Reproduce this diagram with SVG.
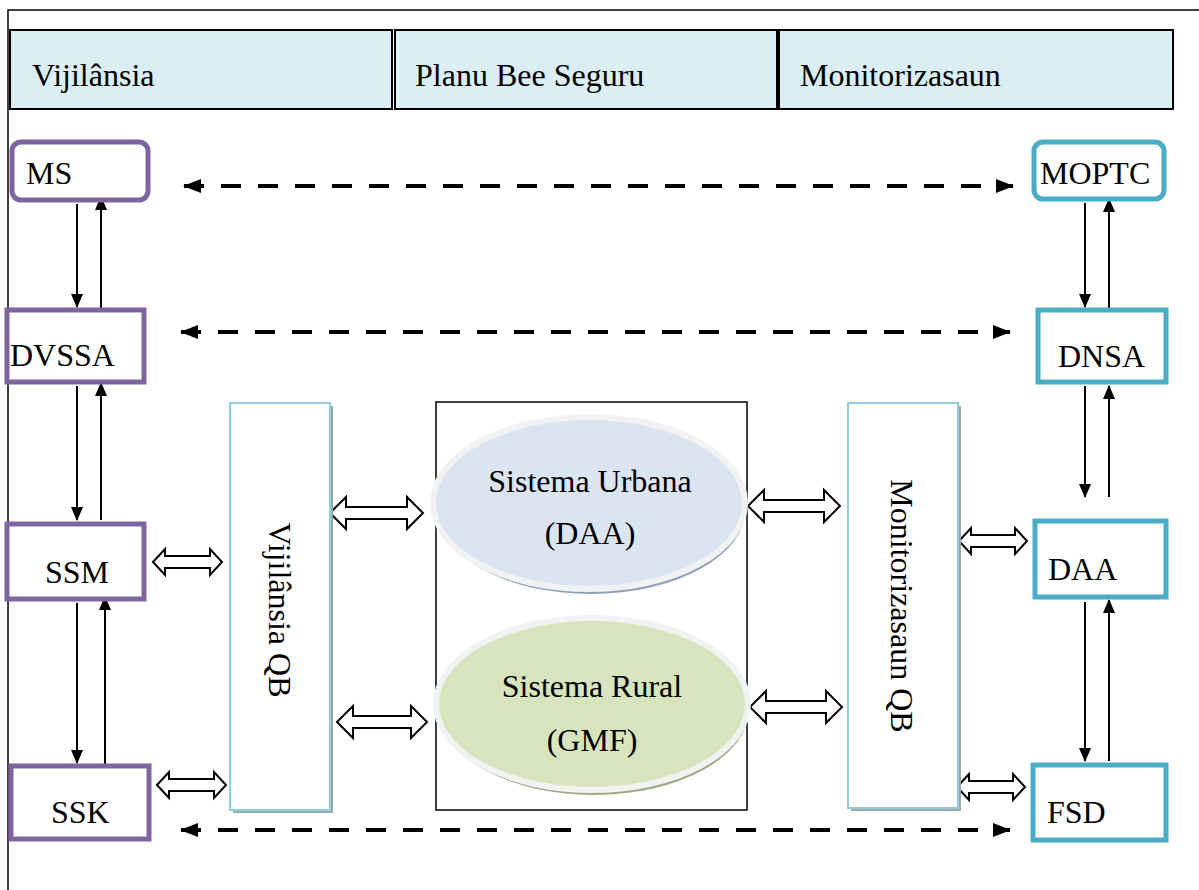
<svg xmlns="http://www.w3.org/2000/svg" width="1199" height="890" viewBox="0 0 1199 890">
<style>
text{font-family:"Liberation Serif","Times New Roman",serif;fill:#000;font-size:32px}
.hdr{fill:#DAEEF3;stroke:#000;stroke-width:2}
.pur{fill:#fff;stroke:#8064A2;stroke-width:5}
.teal{fill:#fff;stroke:#4BACC6;stroke-width:5}
.qb{fill:#fff;stroke:#92CDDC;stroke-width:2}
.qbs{fill:#9AA9B0}
.thin{stroke:#000;stroke-width:2;fill:none}
.dash{stroke:#000;stroke-width:4;stroke-dasharray:20 17;fill:none}
.blk{fill:#fff;stroke:#000;stroke-width:2;stroke-linejoin:miter}
</style>
<defs>
<marker id="ah" markerWidth="14" markerHeight="12" refX="13" refY="6" orient="auto" markerUnits="userSpaceOnUse"><path d="M0,0 L14,6 L0,12 Z" fill="#000"/></marker>
<marker id="dh" markerWidth="18" markerHeight="14" refX="17" refY="7" orient="auto-start-reverse" markerUnits="userSpaceOnUse"><path d="M0,0 L18,7 L0,14 Z" fill="#000"/></marker>
</defs>
<rect width="1199" height="890" fill="#fff"/>
<path d="M8,890 L8,10 L1199,10" stroke="#000" stroke-width="1.5" fill="none"/>

<g id="header">
<rect class="hdr" x="10" y="30" width="382" height="79"/>
<rect class="hdr" x="395" y="30" width="382" height="79"/>
<rect class="hdr" x="779" y="30" width="394" height="79"/>
<text x="32" y="86">Vijilânsia</text>
<text x="415" y="86">Planu Bee Seguru</text>
<text x="800" y="86">Monitorizasaun</text>
</g>

<g id="connectors">
<line class="dash" x1="184" y1="186" x2="1013" y2="186" marker-start="url(#dh)" marker-end="url(#dh)"/>
<line class="dash" x1="181" y1="332" x2="1010" y2="332" marker-start="url(#dh)" marker-end="url(#dh)"/>
<line class="dash" x1="181" y1="830" x2="1010" y2="830" marker-start="url(#dh)" marker-end="url(#dh)"/>
<line class="thin" x1="77" y1="204" x2="77" y2="307" marker-end="url(#ah)"/>
<line class="thin" x1="101" y1="308" x2="101" y2="197" marker-end="url(#ah)"/>
<line class="thin" x1="77" y1="386" x2="77" y2="520" marker-end="url(#ah)"/>
<line class="thin" x1="101" y1="520" x2="101" y2="383" marker-end="url(#ah)"/>
<line class="thin" x1="77" y1="603" x2="77" y2="763" marker-end="url(#ah)"/>
<line class="thin" x1="105" y1="764" x2="105" y2="597" marker-end="url(#ah)"/>
<line class="thin" x1="1085" y1="203" x2="1085" y2="307" marker-end="url(#ah)"/>
<line class="thin" x1="1109" y1="308" x2="1109" y2="199" marker-end="url(#ah)"/>
<line class="thin" x1="1085" y1="386" x2="1085" y2="497" marker-end="url(#ah)"/>
<line class="thin" x1="1109" y1="497" x2="1109" y2="386" marker-end="url(#ah)"/>
<line class="thin" x1="1085" y1="602" x2="1085" y2="761" marker-end="url(#ah)"/>
<line class="thin" x1="1109" y1="761" x2="1109" y2="600" marker-end="url(#ah)"/>
<path class="blk" d="M153,562 L165,549 L165,556 L210,556 L210,549 L222,562 L210,575 L210,568 L165,568 L165,575 Z"/>
<path class="blk" d="M157,785 L169,772 L169,779 L214,779 L214,772 L226,785 L214,798 L214,791 L169,791 L169,798 Z"/>
<path class="blk" d="M330,513 L346,497 L346,507 L407,507 L407,497 L423,513 L407,529 L407,519 L346,519 L346,529 Z"/>
<path class="blk" d="M337,722 L353,706 L353,716 L411,716 L411,706 L427,722 L411,738 L411,728 L353,728 L353,738 Z"/>
<path class="blk" d="M748,506 L764,490 L764,500 L824,500 L824,490 L840,506 L824,522 L824,512 L764,512 L764,522 Z"/>
<path class="blk" d="M750,707 L766,691 L766,701 L826,701 L826,691 L842,707 L826,723 L826,713 L766,713 L766,723 Z"/>
<path class="blk" d="M959,541 L971,528 L971,535 L1015,535 L1015,528 L1027,541 L1015,554 L1015,547 L971,547 L971,554 Z"/>
<path class="blk" d="M957,787 L969,774 L969,781 L1013,781 L1013,774 L1025,787 L1013,800 L1013,793 L969,793 L969,800 Z"/>
</g>

<g id="MS"><rect class="pur" x="12" y="142" width="136" height="58" rx="9"/><text x="26" y="184">MS</text></g>
<g id="DVSSA"><rect class="pur" x="7" y="310" width="137" height="72"/><text x="10" y="366">DVSSA</text></g>
<g id="SSM"><rect class="pur" x="7" y="524" width="137" height="75"/><text x="45" y="583">SSM</text></g>
<g id="SSK"><rect class="pur" x="11" y="766" width="138" height="73"/><text x="51" y="823">SSK</text></g>

<g id="MOPTC"><rect class="teal" x="1034" y="142" width="130" height="57" rx="9"/><text x="1040" y="184">MOPTC</text></g>
<g id="DNSA"><rect class="teal" x="1038" y="310" width="128" height="72"/><text x="1058" y="367">DNSA</text></g>
<g id="DAA"><rect class="teal" x="1035" y="521" width="131" height="76"/><text x="1048" y="580">DAA</text></g>
<g id="FSD"><rect class="teal" x="1033" y="765" width="133" height="75"/><text x="1047" y="823">FSD</text></g>

<g id="VijilansiaQB">
<rect class="qbs" x="233" y="406" width="100" height="407"/>
<rect class="qb" x="230" y="403" width="100" height="407"/>
<text transform="translate(280,610) rotate(90)" text-anchor="middle" dominant-baseline="central">Vijilânsia QB</text>
</g>
<g id="MonitorizasaunQB">
<rect class="qbs" x="851" y="406" width="110" height="405"/>
<rect class="qb" x="848" y="403" width="110" height="405"/>
<text transform="translate(902,606) rotate(90)" text-anchor="middle" dominant-baseline="central">Monitorizasaun QB</text>
</g>

<g id="PlanuBox">
<rect x="436" y="402" width="311" height="408" fill="none" stroke="#000" stroke-width="1.5"/>
</g>
<g id="SistemaUrbana">
<ellipse cx="591" cy="508" rx="155" ry="86" fill="#8EA0B8"/>
<ellipse cx="589" cy="503" rx="156" ry="86" fill="#DBE5F1" stroke="#F2F2F2" stroke-width="6"/>
<text x="590" y="492" text-anchor="middle" font-size="29">Sistema Urbana</text>
<text x="590" y="544" text-anchor="middle" font-size="30">(DAA)</text>
</g>
<g id="SistemaRural">
<ellipse cx="594" cy="709" rx="155" ry="86" fill="#9AAA80"/>
<ellipse cx="592" cy="704" rx="156" ry="86" fill="#D7E4BD" stroke="#F2F2F2" stroke-width="6"/>
<text x="592" y="697" text-anchor="middle">Sistema Rural</text>
<text x="592" y="751" text-anchor="middle">(GMF)</text>
</g>
</svg>
